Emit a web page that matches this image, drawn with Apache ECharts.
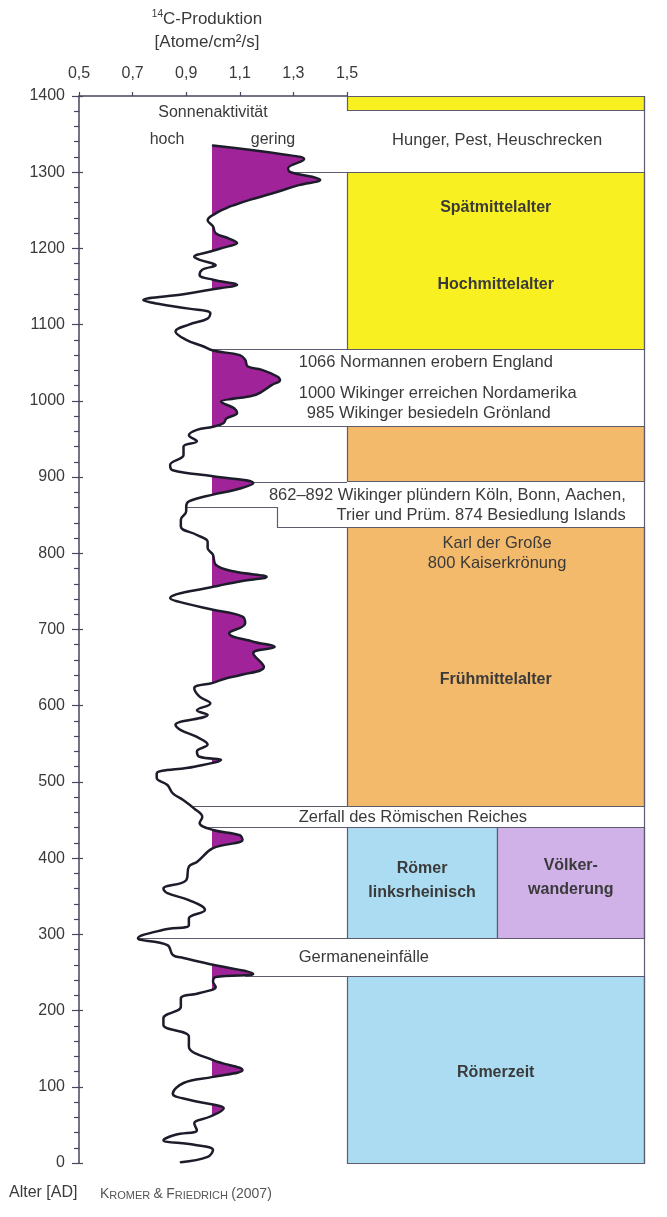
<!DOCTYPE html>
<html>
<head>
<meta charset="utf-8">
<script src="https://cdn.jsdelivr.net/npm/echarts@6/dist/echarts.min.js"></script>
<style>
html, body { margin: 0; padding: 0; background: #fff; }
#main { width: 667px; height: 1217px; }
</style>
</head>
<body>
<div id="main"></div>
<script>
// 14C-Produktion nach Kromer & Friedrich (2007), Jahre AD
const curveYears = [1335, 1323, 1317, 1305, 1300, 1294, 1290, 1283, 1272, 1264, 1257, 1253, 1246, 1237, 1229, 1220,
  1213, 1207, 1202, 1196, 1189, 1185, 1178, 1172, 1165, 1159, 1152, 1148, 1140, 1132, 1127, 1121, 1115, 1108, 1100,
  1091, 1080, 1072, 1066, 1060, 1054, 1045, 1041, 1032, 1027, 1021, 1008, 1003, 999, 990, 984, 977, 971, 966, 962,
  955, 947, 940, 929, 916, 909, 901, 892, 883, 877, 868, 861, 855, 844, 835, 824, 815, 807, 798, 785, 776, 769, 763,
  756, 741, 734, 726, 717, 708, 695, 684, 677, 669, 651, 640, 636, 630, 623, 612, 603, 594, 588, 575, 568, 559, 549,
  540, 533, 529, 520, 511, 505, 496, 485, 476, 465, 454, 446, 437, 430, 424, 413, 395, 389, 371, 360, 354, 345, 332,
  321, 312, 306, 295, 286, 273, 269, 260, 248, 244, 238, 231, 223, 216, 205, 190, 181, 166, 153, 135, 122, 113, 105,
  91, 83, 76, 72, 61, 52, 43, 37, 30, 24, 17, 8, 1];
const curveValues = [1.00, 1.27, 1.34, 1.28, 1.29, 1.37, 1.40, 1.32, 1.22, 1.14, 1.08, 1.05, 1.01, 0.98, 1.00, 1.01,
  1.06, 1.09, 1.05, 0.99, 0.93, 0.95, 1.01, 0.96, 0.95, 1.00, 1.09, 1.03, 0.89, 0.74, 0.80, 0.91, 0.99, 0.98, 0.91,
  0.86, 0.90, 0.96, 1.00, 1.10, 1.12, 1.13, 1.18, 1.24, 1.25, 1.22, 1.16, 1.08, 1.03, 1.08, 1.09, 1.05, 1.04, 1.00, 0.94,
  0.91, 0.94, 0.89, 0.89, 0.84, 0.85, 1.00, 1.15, 1.08, 1.00, 0.91, 0.90, 0.90, 0.88, 0.88, 0.94, 0.98, 0.98, 1.00, 1.01, 1.08, 1.20, 1.10,
  1.00, 0.84, 0.90, 1.00, 1.11, 1.12, 1.06, 1.15, 1.23, 1.15, 1.19, 1.10, 1.05, 1.00, 0.93, 0.95, 0.99, 0.94, 0.98, 0.86, 0.88, 0.94, 0.98,
  0.94, 0.95, 1.03, 0.93, 0.79, 0.79, 0.83, 0.85, 0.89, 0.93, 0.96, 0.95, 1.00, 1.10, 1.11, 1.00, 0.94, 0.91, 0.90, 0.815, 0.83, 0.91, 0.97,
  0.91, 0.91, 0.815, 0.72, 0.83, 0.85, 0.89, 1.00, 1.15, 1.01, 1.00, 1.01, 0.95, 0.88, 0.88, 0.815, 0.815, 0.91, 0.91, 1.00, 1.11, 1.00, 0.89,
  0.85, 0.91, 1.01, 1.04, 0.99, 0.93, 0.94, 0.86, 0.815, 0.93, 1.00, 0.98, 0.88];

// farbige Epochen-Kästen
const periodTop = [1400, 1300, 967, 835, 441, 441, 245];
const periodEnd = [1382, 1068, 895, 468, 295, 295, 0];
const periodKind = ['mittel', 'mittel', 'frueh', 'frueh', 'roemer', 'voelker', 'roemer'];
const periodCol = ['ganz', 'ganz', 'ganz', 'ganz', 'links', 'rechts', 'ganz'];

const periodLabels = ['Spätmittelalter', 'Hochmittelalter', 'Frühmittelalter', 'Römer\nlinksrheinisch', 'Völker-\nwanderung', 'Römerzeit'];
const periodLabelYears = [1254, 1152, 634, 371, 374, 118];
const periodLabelCol = ['ganz', 'ganz', 'ganz', 'links', 'rechts', 'ganz'];

// Ereignisse in den weißen Bändern
const eventTexts = ['Hunger, Pest, Heuschrecken', '1066 Normannen erobern England', '1000 Wikinger erreichen Nordamerika',
  '985 Wikinger besiedeln Grönland', '862–892 Wikinger plündern Köln, Bonn, Aachen,', 'Trier und Prüm. 874 Besiedlung Islands',
  'Karl der Große', '800 Kaiserkrönung', 'Zerfall des Römischen Reiches', 'Germaneneinfälle'];
const eventYears = [1342, 1050, 1010, 984, 876, 850, 813, 787, 454, 270];

// Bandgrenzen, die bis an die Kurve reichen
const edgeYears = [1300, 1068, 967, 894, 468, 441, 295, 245];
const edgeFrom = [1.29, 1.0, 1.02, 1.13, 0.915, 0.975, 0.72, 1.12];
const stepYears = [861, 835];
const stepFrom = [0.9, 1.24];

// Layout
const FONT = '"Liberation Sans", Arial, sans-serif';
const TEXT = '#3a3a3a';
const AXIS = '#46465c';
const EDGE = '#5c5c6e';
const FILL = '#a1239a';
const LINE = '#1c1c2a';
const SMOOTH = 0.4;
const COLS = { ganz: [1.5, 2.61], links: [1.5, 2.06], rechts: [2.06, 2.61] };
const KIND_COLOR = { mittel: '#f8f020', frueh: '#f4ba6c', roemer: '#abdcf1', voelker: '#d0b2e8' };
const eventAnchor = [[2.06, 'center'], [1.32, 'left'], [1.32, 'left'], [1.35, 'left'], [2.54, 'right'], [2.54, 'right'],
  [2.06, 'center'], [2.06, 'center'], [1.32, 'left'], [1.32, 'left']];

const crisp = v => Math.round(v) + 0.5;
const clamp = (v, a, b) => Math.max(Math.min(v, Math.max(a, b)), Math.min(a, b));

// geglättete Kurve (gleiche Regel wie die Linienglättung von ECharts)
function smoothPath(pts) {
  let d = 'M' + pts[0][0] + ' ' + pts[0][1];
  let cpx0 = pts[0][0], cpy0 = pts[0][1];
  let prevX = pts[0][0], prevY = pts[0][1];
  for (let i = 1; i < pts.length; i++) {
    const x = pts[i][0], y = pts[i][1];
    let cpx1 = x, cpy1 = y, nx0 = x, ny0 = y;
    if (i < pts.length - 1) {
      const nextX = pts[i + 1][0], nextY = pts[i + 1][1];
      const lenPrev = Math.hypot(x - prevX, y - prevY);
      const lenNext = Math.hypot(nextX - x, nextY - y);
      const ratio = lenNext / (lenNext + lenPrev);
      let vx = nextX - prevX, vy = nextY - prevY;
      nx0 = clamp(x + vx * SMOOTH * ratio, nextX, x);
      ny0 = clamp(y + vy * SMOOTH * ratio, nextY, y);
      vx = nx0 - x; vy = ny0 - y;
      cpx1 = clamp(x - vx * lenPrev / lenNext, prevX, x);
      cpy1 = clamp(y - vy * lenPrev / lenNext, prevY, y);
      vx = x - cpx1; vy = y - cpy1;
      nx0 = x + vx * lenNext / lenPrev;
      ny0 = y + vy * lenNext / lenPrev;
    }
    d += 'C' + [cpx0, cpy0, cpx1, cpy1, x, y].join(' ');
    cpx0 = nx0; cpy0 = ny0;
    prevX = x; prevY = y;
  }
  return d;
}

const chart = echarts.init(document.getElementById('main'));

const curveData = curveValues.map((v, i) => [v, curveYears[i]]);

const option = {
  animation: false,
  grid: [
    { left: 79, top: 96, width: 268, height: 1067 },
    { left: 79, top: 96, width: 568.16, height: 1067 },
    { left: 213, top: 96, width: 134, height: 1067 }
  ],
  xAxis: [
    {
      gridIndex: 0, type: 'value', position: 'top', min: 0.5, max: 1.5, interval: 0.2,
      axisLine: { show: true, onZero: false, lineStyle: { color: AXIS, width: 1.5 } },
      axisTick: { show: true, length: 4, lineStyle: { color: AXIS, width: 1.2 } },
      axisLabel: { color: TEXT, fontSize: 16, fontFamily: FONT, margin: 14, formatter: v => v.toFixed(1).replace('.', ',') },
      splitLine: { show: false }
    },
    { gridIndex: 1, type: 'value', min: 0.5, max: 2.62, show: false },
    { gridIndex: 2, type: 'value', min: 1.0, max: 1.5, show: false }
  ],
  yAxis: [
    {
      gridIndex: 0, type: 'value', min: 0, max: 1400, interval: 100,
      axisLine: { show: true, onZero: false, lineStyle: { color: AXIS, width: 1.5 } },
      axisTick: { show: true, length: 7, lineStyle: { color: AXIS, width: 1.2 } },
      minorTick: { show: true, splitNumber: 5, length: 5, lineStyle: { color: AXIS, width: 1.2 } },
      axisLabel: { color: TEXT, fontSize: 16, fontFamily: FONT, margin: 14, formatter: v => String(v) },
      splitLine: { show: false }
    },
    {
      gridIndex: 0, type: 'value', position: 'left', min: 0, max: 1400, interval: 100,
      axisLine: { show: false }, axisLabel: { show: false }, splitLine: { show: false },
      axisTick: { show: true, inside: true, length: 4, lineStyle: { color: AXIS, width: 1.2 } }
    },
    { gridIndex: 1, type: 'value', min: 0, max: 1400, show: false },
    { gridIndex: 2, type: 'value', min: 0, max: 1400, show: false }
  ],
  graphic: [
    {
      type: 'text', x: 207, y: 19,
      style: {
        text: '{s|14}{n|C-Produktion}', align: 'center', verticalAlign: 'middle', fill: TEXT,
        rich: {
          s: { fontSize: 10, fontFamily: FONT, fill: TEXT, verticalAlign: 'top', lineHeight: 20 },
          n: { fontSize: 17, fontFamily: FONT, fill: TEXT, lineHeight: 20 }
        }
      }
    },
    { type: 'text', x: 207, y: 42, style: { text: '[Atome/cm²/s]', align: 'center', verticalAlign: 'middle', fill: TEXT, fontSize: 17, fontFamily: FONT } },
    { type: 'text', x: 213, y: 113, style: { text: 'Sonnenaktivität', align: 'center', verticalAlign: 'middle', fill: TEXT, fontSize: 16, fontFamily: FONT } },
    { type: 'text', x: 167, y: 140, style: { text: 'hoch', align: 'center', verticalAlign: 'middle', fill: TEXT, fontSize: 16, fontFamily: FONT } },
    { type: 'text', x: 273, y: 140, style: { text: 'gering', align: 'center', verticalAlign: 'middle', fill: TEXT, fontSize: 16, fontFamily: FONT } },
    { type: 'text', x: 9, y: 1193, style: { text: 'Alter [AD]', align: 'left', verticalAlign: 'middle', fill: TEXT, fontSize: 16, fontFamily: FONT } },
    {
      type: 'text', x: 100, y: 1193,
      style: {
        text: '{b|K}{s|ROMER} {b|&} {b|F}{s|RIEDRICH} {b|(2007)}', align: 'left', verticalAlign: 'middle',
        rich: {
          b: { fontSize: 14, fontFamily: FONT, fill: '#555', verticalAlign: 'bottom', lineHeight: 16 },
          s: { fontSize: 11, fontFamily: FONT, fill: '#555', verticalAlign: 'bottom', lineHeight: 16 }
        }
      }
    }
  ],
  series: [
    {
      // Epochen-Kästen
      type: 'custom', xAxisIndex: 1, yAxisIndex: 2, z: 1, silent: true,
      data: periodTop.map((t, i) => [COLS[periodCol[i]][0], t, COLS[periodCol[i]][1], periodEnd[i]]),
      renderItem: (params, api) => {
        const i = params.dataIndex;
        const p0 = api.coord([api.value(0), api.value(1)]);
        const p1 = api.coord([api.value(2), api.value(3)]);
        const x = crisp(p0[0]), y = crisp(p0[1]);
        return {
          type: 'rect',
          shape: { x: x, y: y, width: crisp(p1[0]) - x, height: crisp(p1[1]) - y },
          style: { fill: KIND_COLOR[periodKind[i]], stroke: EDGE, lineWidth: 1.2 }
        };
      }
    },
    {
      // Grenzlinien der weißen Bänder
      type: 'custom', xAxisIndex: 1, yAxisIndex: 2, z: 2, silent: true,
      data: edgeYears.map((y, i) => [edgeFrom[i], y]),
      renderItem: (params, api) => {
        const a = api.coord([api.value(0), api.value(1)]);
        const b = api.coord([COLS.ganz[0], api.value(1)]);
        const y = crisp(a[1]);
        const children = [{ type: 'line', shape: { x1: a[0], y1: y, x2: b[0], y2: y }, style: { stroke: EDGE, lineWidth: 1.2 } }];
        if (params.dataIndex === 0) {
          // Stufe 862/835 und rechter Rand
          const s0 = api.coord([stepFrom[0], stepYears[0]]);
          const s1 = api.coord([stepFrom[1], stepYears[0]]);
          const s2 = api.coord([stepFrom[1], stepYears[1]]);
          const s3 = api.coord([COLS.ganz[0], stepYears[1]]);
          children.push({
            type: 'polyline',
            shape: { points: [[s0[0], crisp(s0[1])], [crisp(s1[0]), crisp(s1[1])], [crisp(s2[0]), crisp(s2[1])], [s3[0], crisp(s3[1])]] },
            style: { stroke: EDGE, lineWidth: 1.2, fill: null }
          });
          const r0 = api.coord([COLS.ganz[1], 1400]);
          const r1 = api.coord([COLS.ganz[1], 0]);
          children.push({ type: 'line', shape: { x1: crisp(r0[0]), y1: r0[1], x2: crisp(r1[0]), y2: r1[1] }, style: { stroke: EDGE, lineWidth: 1.2 } });
        }
        return { type: 'group', children: children };
      }
    },
    {
      // Epochen-Beschriftung
      type: 'custom', xAxisIndex: 1, yAxisIndex: 2, z: 3, silent: true,
      data: periodLabelYears.map((y, i) => [(COLS[periodLabelCol[i]][0] + COLS[periodLabelCol[i]][1]) / 2, y]),
      renderItem: (params, api) => {
        const p = api.coord([api.value(0), api.value(1)]);
        return {
          type: 'text', x: p[0], y: p[1],
          style: {
            text: periodLabels[params.dataIndex], align: 'center', verticalAlign: 'middle', fill: TEXT,
            fontSize: 16, fontWeight: 'bold', fontFamily: FONT, lineHeight: 24
          }
        };
      }
    },
    {
      // Ereignis-Texte
      type: 'custom', xAxisIndex: 1, yAxisIndex: 2, z: 3, silent: true,
      data: eventYears.map((y, i) => [eventAnchor[i][0], y]),
      renderItem: (params, api) => {
        const p = api.coord([api.value(0), api.value(1)]);
        return {
          type: 'text', x: p[0], y: p[1],
          style: {
            text: eventTexts[params.dataIndex], align: eventAnchor[params.dataIndex][1], verticalAlign: 'middle',
            fill: TEXT, fontSize: 16.5, fontFamily: FONT
          }
        };
      }
    },
    {
      // Fläche > 1,0 (geringe Sonnenaktivität), am Gitter bei 1,0 abgeschnitten
      type: 'custom', xAxisIndex: 2, yAxisIndex: 3, z: 4, silent: true, clip: true,
      lineStyle: { width: 0.01 },
      data: curveData,
      renderItem: (params, api) => {
        if (params.dataIndex !== 0) return null;
        const pts = curveData.map(p => api.coord(p));
        const left = api.coord([0.5, 0])[0];
        const d = smoothPath(pts) + 'L' + left + ' ' + pts[pts.length - 1][1] + 'L' + left + ' ' + pts[0][1] + 'Z';
        return { type: 'path', shape: { pathData: d }, style: { fill: FILL, stroke: null } };
      }
    },
    {
      // Kurve
      type: 'custom', xAxisIndex: 0, yAxisIndex: 0, z: 5, silent: true,
      data: curveData,
      renderItem: (params, api) => {
        if (params.dataIndex !== 0) return null;
        const pts = curveData.map(p => api.coord(p));
        return {
          type: 'path', shape: { pathData: smoothPath(pts) },
          style: { fill: null, stroke: LINE, lineWidth: 2.5, lineJoin: 'round', lineCap: 'round' }
        };
      }
    }
  ]
};

chart.setOption(option);
</script>
</body>
</html>
